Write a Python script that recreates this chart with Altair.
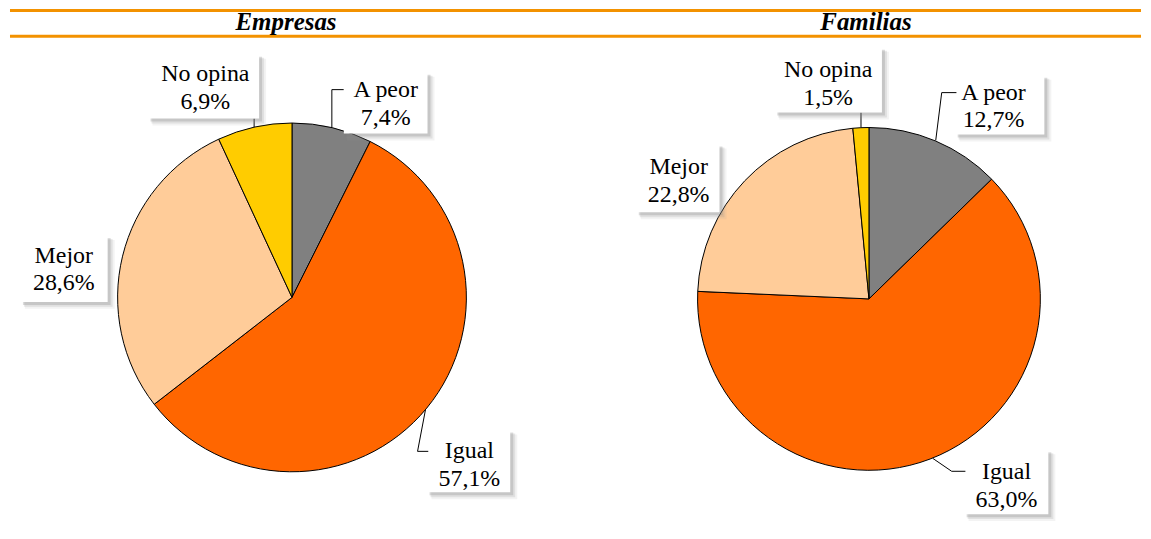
import altair as alt
import pandas as pd

# ---- data -------------------------------------------------------------
categories = ["A peor", "Igual", "Mejor", "No opina"]
empresas = [7.4, 57.1, 28.6, 6.9]
familias = [12.7, 63.0, 22.8, 1.5]
panel_titles = ["Empresas", "Familias"]

# ---- styles -----------------------------------------------------------
colors = ["#808080", "#FF6600", "#FFCC99", "#FFCC00"]
ORANGE = "#F39200"
LABEL_FONT = "Liberation Serif"
LINE_H = 28
H = 523

# ---- layout (pixel positions inside each panel) -------------------------
layouts = [
    dict(
        W=571, cx=283, cy=289.5, r=175, title_x=277,
        text=[(377, 95.5), (461, 458), (54, 261.5), (196, 79.5)],
        boxes=[(335, 65, 419, 125), (420, 424, 502, 485), (12, 229, 98, 294), (140, 47, 250, 110)],
        leaders=[[(335, 81), (323, 81), (323, 119)],
                 [(420, 444), (409, 444), (417, 402)],
                 [],
                 [(245, 110), (245, 119)]],
    ),
    dict(
        W=564, cx=291, cy=291, r=172, title_x=288,
        text=[(416, 98), (429, 479), (100, 173), (250, 75)],
        boxes=[(379, 68, 467, 126), (388, 444, 471, 507), (59, 137, 141, 204), (198, 40, 304, 104)],
        leaders=[[(379, 84), (364, 84), (358, 132)],
                 [(388, 464), (374, 464), (355, 451)],
                 [],
                 [(283, 104), (283, 119)]],
    ),
]


def fmt(v):
    return f"{v:.1f}".replace(".", ",") + "%"


def rect_layer(bdf, dx1, dy1, dx2, dy2, color, opacity):
    return alt.Chart(bdf).mark_rect(color=color, opacity=opacity).encode(
        x=alt.X("a1:Q", scale=None), x2="a2:Q",
        y=alt.Y("b1:Q", scale=None), y2="b2:Q",
    ).transform_calculate(
        a1=f"datum.x1+{dx1}", a2=f"datum.x2+{dx2}",
        b1=f"datum.y1+{dy1}", b2=f"datum.y2+{dy2}",
    )


def panel(title, values, L):
    W, cx, cy, r = L["W"], L["cx"], L["cy"], L["r"]
    df = pd.DataFrame({"cat": categories, "v": values, "ord": list(range(len(values)))})

    pie_shadow1 = alt.Chart(pd.DataFrame({"s": [1]})).mark_circle(
        size=3.14159 * (r + 5) ** 2, color="#9a9a9a", opacity=0.15
    ).encode(x=alt.value(cx + 3), y=alt.value(cy + 5))
    pie_shadow2 = alt.Chart(pd.DataFrame({"s": [1]})).mark_circle(
        size=3.14159 * (r + 2) ** 2, color="#8a8a8a", opacity=0.3
    ).encode(x=alt.value(cx + 2), y=alt.value(cy + 3))

    pie = alt.Chart(df).mark_arc(radius=r, stroke="black", strokeWidth=1).encode(
        theta=alt.Theta("v:Q", stack=True),
        color=alt.Color("cat:N", scale=alt.Scale(domain=categories, range=colors), legend=None),
        order=alt.Order("ord:Q"),
        x=alt.value(cx),
        y=alt.value(cy),
    )

    lead_rows = []
    for i, seg in enumerate(L["leaders"]):
        for j, (px, py) in enumerate(seg):
            lead_rows.append({"seg": i, "k": j, "x": px, "y": py})
    leaders = alt.Chart(pd.DataFrame(lead_rows)).mark_line(color="black", strokeWidth=1).encode(
        x=alt.X("x:Q", scale=None),
        y=alt.Y("y:Q", scale=None),
        detail="seg:N",
        order="k:Q",
    )

    bdf = pd.DataFrame([{"x1": b[0], "y1": b[1], "x2": b[2], "y2": b[3]} for b in L["boxes"]])
    sh_a = rect_layer(bdf, 3, 3, 7, 7, "#999", 0.12)
    sh_b = rect_layer(bdf, 2, 2, 5, 5, "#888", 0.18)
    sh_c = rect_layer(bdf, 1, 1, 3, 3, "#777", 0.25)
    boxes = rect_layer(bdf, 0, 0, 0, 0, "white", 1)

    tdf = pd.DataFrame({
        "t": [c + "\n" + fmt(v) for c, v in zip(categories, values)],
        "x": [p[0] for p in L["text"]],
        "y": [p[1] - LINE_H / 2 for p in L["text"]],
    })
    labels = alt.Chart(tdf).mark_text(
        font=LABEL_FONT, fontSize=24, lineBreak="\n", lineHeight=LINE_H,
        align="center", baseline="middle", color="black",
    ).encode(x=alt.X("x:Q", scale=None), y=alt.Y("y:Q", scale=None), text="t:N")

    rule_top = alt.Chart(pd.DataFrame({"a": [0]})).mark_rule(color=ORANGE, strokeWidth=3).encode(
        x=alt.value(0), x2=alt.value(W), y=alt.value(1.5))
    rule_bot = alt.Chart(pd.DataFrame({"a": [0]})).mark_rule(color=ORANGE, strokeWidth=3).encode(
        x=alt.value(0), x2=alt.value(W), y=alt.value(27.5))
    head = alt.Chart(pd.DataFrame({"t": [title]})).mark_text(
        font="Liberation Serif", fontSize=25, fontWeight="bold", fontStyle="italic",
        align="center", baseline="alphabetic", color="black",
    ).encode(x=alt.value(L["title_x"]), y=alt.value(21), text="t:N")

    return alt.layer(
        pie_shadow1, pie_shadow2, pie, leaders, sh_a, sh_b, sh_c, boxes, labels,
        rule_top, rule_bot, head
    ).properties(width=W, height=H)


left = panel(panel_titles[0], empresas, layouts[0])
right = panel(panel_titles[1], familias, layouts[1])

chart = alt.hconcat(left, right, spacing=0, bounds="flush").configure_view(stroke=None).properties(padding=0)

chart.save("out.html", embed_options={"renderer": "svg", "actions": False})
